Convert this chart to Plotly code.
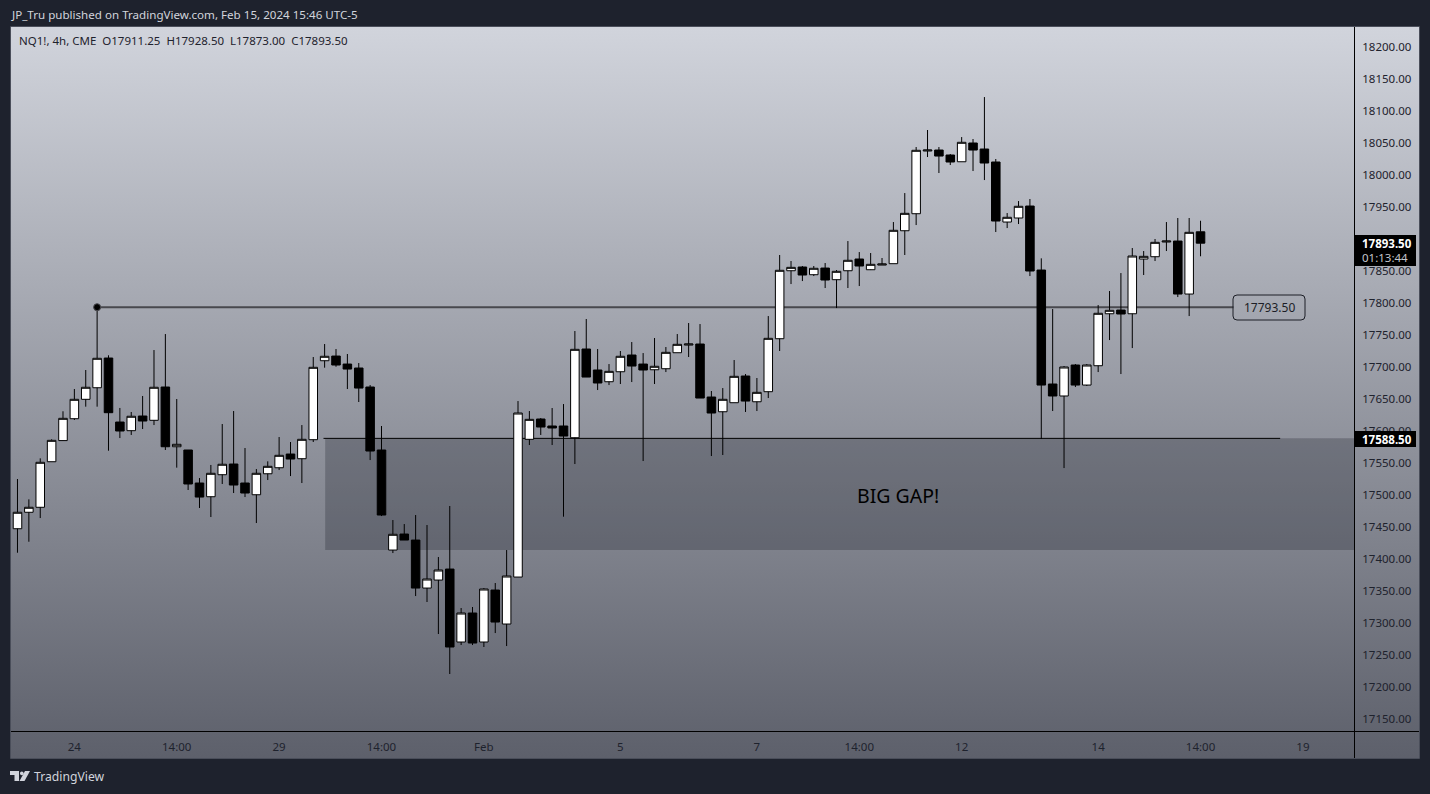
import base64
import plotly.graph_objects as go

opens = [17447.3,17473,17480.8,17552,17585,17619.2,17649.5,17667.6,17714,17614,
17600.5,17623.4,17616.7,17668.7,17575.4,17570.3,17518.7,17497.3,17531.7,17548.4,
17518.7,17500.4,17533.2,17542.6,17564,17556.7,17586.4,17709.8,17717.1,17704.6,
17698.4,17668.7,17570.3,17414,17439,17429.6,17354.6,17367.1,17384.3,17270.3,
17315.6,17270.3,17351.5,17298.4,17371.8,17587,17618.7,17607.8,17607.8,17589.5,
17728.1,17695.3,17677,17692.6,17718.7,17704.6,17695.7,17697.3,17722.3,17734.3,
17735.9,17653.1,17630.1,17644.2,17685.9,17645.7,17661.4,17744.2,17850.4,17856.2,
17844.2,17854.6,17836.4,17850.4,17868.7,17852,17859.3,17861.4,17912.9,17939.5,
18037.5,18039,18031.2,18020.7,18050,18040.6,18020.3,17926.5,17932.8,17951.5,
17851.5,17673.4,17654.7,17703.1,17671.8,17702,17783.2,17789,17783.2,17868.7,
17872.3,17895.3,17896.8,17814,17911.25]

highs = [17525,17493.2,17557.3,17587,17630.8,17665.6,17695.3,17793.5,17718.3,17636,
17629.7,17654.7,17726.5,17751.5,17650,17570.3,17526.5,17546.9,17610.9,17631.2,
17573.4,17540.6,17552.6,17590.6,17582.8,17609.3,17715.6,17735.9,17728.1,17720.3,
17706.2,17671.8,17607.8,17460.9,17454.6,17468.7,17453.1,17403.1,17482.8,17323.4,
17325,17354.6,17362.5,17414,17646.8,17631.2,17620.3,17635.9,17642.1,17756.2,
17775,17728.1,17704.6,17725,17739,17721.8,17745.3,17731.2,17751.5,17768.7,
17767.1,17662.5,17667.1,17710.9,17689,17682.8,17779.6,17875,17865.6,17857.8,
17857.8,17862.5,17851.5,17896.8,17879.6,17878.1,17870.3,17926.5,17971.8,18043.7,
18070.3,18043.7,18032.8,18059.3,18056.2,18121.8,18025,17940.6,17959.3,17962.5,
17869.8,17790.6,17701.5,17704.6,17704.6,17796.8,17818.7,17846.8,17885.9,17881.2,
17900,17926.5,17932.8,17932.8,17928.5]

lows = [17409.8,17427,17464,17552,17584.8,17617.2,17638,17638,17569.2,17589,
17593.8,17603.1,17609.3,17570.3,17542.7,17507.8,17479.7,17465.6,17517.2,17503.1,
17496.8,17456.2,17523.4,17539,17529.6,17518.7,17582.8,17698.9,17700.4,17665.6,
17645.3,17554.6,17467.1,17409.3,17429.6,17342.1,17332.8,17282.8,17220.3,17265.6,
17265.6,17262.5,17284.3,17264,17371.8,17578.1,17593.8,17578.1,17466.1,17548.4,
17684.3,17664,17671.8,17673.4,17676.5,17553.1,17673.4,17692.1,17722.3,17715.6,
17651.5,17560.9,17562.5,17644.2,17629.7,17631.2,17651.5,17725,17829.6,17834.3,
17842.1,17823.4,17792.1,17823.4,17826.5,17851.5,17859.3,17861.4,17875,17921.8,
18028.1,18003.1,18015.6,18020.7,18006.2,17992.1,17910.9,17917.1,17923.4,17842.1,
17587.5,17631.2,17542.1,17668.7,17670.3,17692.1,17742.1,17689,17729.6,17843.7,
17865.6,17881.2,17809.3,17779.6,17873]

closes = [17473,17480.8,17551.1,17585.4,17619.8,17649.5,17668.3,17713.6,17628.6,17600,
17623,17615.6,17668.3,17575.4,17579.2,17517.2,17496.8,17533.9,17548,17515.6,
17503.1,17533.9,17544.8,17562,17556.2,17587,17699.5,17716.7,17703.1,17696.8,
17667.1,17568.7,17468.7,17438.6,17429.6,17354.6,17368.7,17382.8,17262.5,17315.6,
17268.7,17353.1,17301.5,17373.4,17628.1,17618.2,17606.2,17604.7,17592.1,17727.6,
17684.3,17675,17693.2,17716.7,17701.5,17695.3,17701.1,17722.9,17735.4,17735.9,
17651.5,17628.1,17649.5,17685.4,17646.8,17660.4,17744.8,17851.1,17855.7,17843.7,
17854.2,17835.9,17849.5,17866.7,17857.8,17860.4,17860.9,17913.6,17940.1,18038.6,
18039,18029.6,18020.3,18051.1,18039,18018.7,17928.1,17933.9,17951.1,17850,
17671.8,17654.7,17700,17671.8,17703.1,17783.9,17788.6,17782.8,17873.4,17872.9,
17894.8,17896.8,17814,17910.4,17893.5]

tick_positions = [5, 14, 23, 32, 41, 53, 65, 74, 83, 95, 104, 113]
tick_labels = ["24", "14:00", "29", "14:00", "Feb", "5", "7", "14:00", "12", "14", "14:00", "19"]

level_price = 17793.5
gap_top = 17588.5
gap_bottom = 17414
last_price = 17893.5

W, H = 1430, 794
FONT = "Noto Sans, Open Sans, sans-serif"
px = lambda v: v / W
py = lambda v: 1 - v / H

svg = ('<svg xmlns="http://www.w3.org/2000/svg" width="100" height="100" preserveAspectRatio="none">'
       '<defs><linearGradient id="g" x1="0" y1="0" x2="0" y2="1">'
       '<stop offset="0" stop-color="#D1D4DC"/><stop offset="1" stop-color="#5D606B"/>'
       '</linearGradient></defs><rect width="100" height="100" fill="url(#g)"/></svg>')
grad_uri = "data:image/svg+xml;base64," + base64.b64encode(svg.encode()).decode()

fig = go.Figure()
fig.add_trace(go.Candlestick(
    x=list(range(len(opens))), open=opens, high=highs, low=lows, close=closes,
    increasing=dict(line=dict(color="#000000", width=1), fillcolor="#FFFFFF"),
    decreasing=dict(line=dict(color="#000000", width=1), fillcolor="#000000"),
    whiskerwidth=0, hoverinfo="skip", showlegend=False,
))
fig.add_trace(go.Scatter(
    x=[7], y=[level_price], mode="markers",
    marker=dict(size=7, color="#000000", line=dict(color="#4A4A50", width=1)),
    hoverinfo="skip", showlegend=False,
))

shapes = [
    # gap zone
    dict(type="rect", xref="x", yref="y", x0=27.05, x1=117.49, y0=gap_bottom, y1=gap_top,
         fillcolor="rgba(30,32,42,0.28)", line_width=0, layer="below"),
    dict(type="line", xref="x", yref="y", x0=26.9, x1=111, y0=gap_top, y1=gap_top,
         line=dict(color="#000000", width=1), layer="below"),
    dict(type="line", xref="x", yref="y", x0=7, x1=106.9, y0=level_price, y1=level_price,
         line=dict(color="#48484E", width=2), layer="below"),
    # panel frame and axis separators
    dict(type="rect", xref="paper", yref="paper", x0=px(10.5), x1=px(1419.5), y0=py(758.5), y1=py(26.5),
         line=dict(color="#4A4E5A", width=1), layer="above"),
    dict(type="line", xref="paper", yref="paper", x0=px(11), x1=px(1419), y0=py(731.5), y1=py(731.5),
         line=dict(color="#000000", width=1), layer="above"),
    dict(type="line", xref="paper", yref="paper", x0=px(1354.5), x1=px(1354.5), y0=py(758), y1=py(27),
         line=dict(color="#000000", width=1), layer="above"),
    # price tags
    dict(type="rect", xref="paper", yref="paper", x0=px(1355), x1=px(1416), y0=py(266), y1=py(235),
         fillcolor="#000000", line_width=0, layer="above"),
    dict(type="rect", xref="paper", yref="paper", x0=px(1355), x1=px(1416), y0=py(447), y1=py(431),
         fillcolor="#000000", line_width=0, layer="above"),
    # rounded label box
    dict(type="path", xref="paper", yref="paper", layer="above",
         path=f"M {px(1237)} {py(295)} L {px(1301)} {py(295)} Q {px(1305)} {py(295)} {px(1305)} {py(299)} "
              f"L {px(1305)} {py(316)} Q {px(1305)} {py(320)} {px(1301)} {py(320)} "
              f"L {px(1237)} {py(320)} Q {px(1233)} {py(320)} {px(1233)} {py(316)} "
              f"L {px(1233)} {py(299)} Q {px(1233)} {py(295)} {px(1237)} {py(295)} Z",
         line=dict(color="#1C1E26", width=1), fillcolor="rgba(0,0,0,0)"),
    # TradingView logo
    dict(type="path", xref="paper", yref="paper", layer="above", line_width=0, fillcolor="#D1D4DC",
         path=f"M {px(10)} {py(771)} L {px(19)} {py(771)} L {px(19)} {py(781)} L {px(14.5)} {py(781)} "
              f"L {px(14.5)} {py(775)} L {px(10)} {py(775)} Z"),
    dict(type="path", xref="paper", yref="paper", layer="above", line_width=0, fillcolor="#D1D4DC",
         path=f"M {px(25)} {py(771)} L {px(30)} {py(771)} L {px(24.5)} {py(781)} L {px(19.5)} {py(781)} Z"),
    dict(type="circle", xref="paper", yref="paper", layer="above", line_width=0, fillcolor="#D1D4DC",
         x0=px(20), x1=px(23.6), y0=py(775.2), y1=py(771.5)),
]


def note(x, y, text, size=12, color="#131722", anchor="left", family=FONT):
    return dict(xref="paper", yref="paper", x=px(x), y=py(y), text=text, showarrow=False,
                xanchor=anchor, yanchor="middle", borderpad=0,
                font=dict(family=family, size=size, color=color))


annotations = [
    note(10, 14.5, "JP_Tru published on TradingView.com, Feb 15, 2024 15:46 UTC-5", 11.6, "#D1D4DC"),
    note(18, 41, "NQ1!, 4h, CME&nbsp;&nbsp;O17911.25&nbsp;&nbsp;H17928.50&nbsp;&nbsp;L17873.00&nbsp;&nbsp;C17893.50", 11.5, "#1E222D"),
    note(898, 495, "BIG GAP!", 19.5, "#000000", "center"),
    note(1269, 307.5, "17793.50", 12, "#1C1E26", "center"),
    note(1361, 243.5, "<b>17893.50</b>", 11.5, "#FFFFFF"),
    note(1361, 258, "01:13:44", 11.5, "#C4C6CC"),
    note(1361, 439.5, "<b>17588.50</b>", 11.5, "#FFFFFF"),
    note(33, 776.5, "TradingView", 12.2, "#D1D4DC"),
]

fig.update_layout(
    width=W, height=H,
    margin=dict(l=0, r=0, t=0, b=0, autoexpand=False),
    paper_bgcolor="#1E222D", plot_bgcolor="rgba(0,0,0,0)",
    boxgap=0.25, boxgroupgap=0,
    showlegend=False,
    hovermode=False,
    font=dict(family=FONT, size=12, color="#131722"),
    images=[dict(source=grad_uri, xref="paper", yref="paper", x=px(11), y=py(27),
                 sizex=px(1408), sizey=731 / H, sizing="stretch",
                 xanchor="left", yanchor="top", layer="below")],
    shapes=shapes, annotations=annotations,
    xaxis=dict(domain=[px(11), px(1354)], range=[-0.57, 117.49], rangeslider=dict(visible=False),
               tickmode="array", tickvals=tick_positions, ticktext=tick_labels,
               showgrid=False, zeroline=False, ticks="outside", ticklen=5, tickcolor="rgba(0,0,0,0)",
               tickfont=dict(family=FONT, size=11.5, color="#1E222D"), fixedrange=True),
    yaxis=dict(domain=[py(731), py(27)], range=[17131.25, 18231.25], side="right",
               tickmode="linear", tick0=17150, dtick=50, tickformat=".2f",
               showgrid=False, zeroline=False, ticks="outside", ticklen=5, tickcolor="rgba(0,0,0,0)",
               tickfont=dict(family=FONT, size=11.5, color="#1E222D"), fixedrange=True),
)

fig.write_html("out.html", config={"displayModeBar": False},
               post_script="document.body.style.margin='0';document.documentElement.style.overflow='hidden';")
